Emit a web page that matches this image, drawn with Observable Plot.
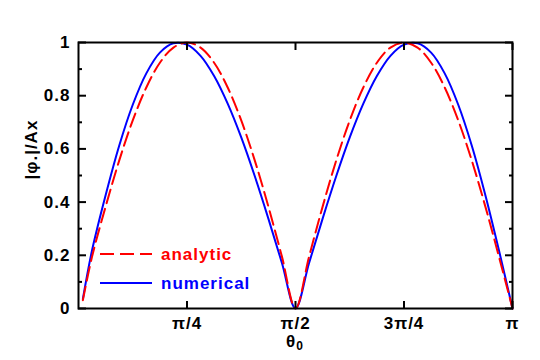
<!DOCTYPE html>
<html><head><meta charset="utf-8">
<script src="https://cdn.jsdelivr.net/npm/d3@7"></script>
<script src="https://cdn.jsdelivr.net/npm/@observablehq/plot@0.6"></script>
<style>
body{margin:0;background:#fff;}
svg text{letter-spacing:1px;font-family:'Liberation Sans',Arial,sans-serif !important;font-weight:bold !important;font-size:17px;}
</style></head><body><div id="chart"></div>
<script>
// theta in units of pi
const theta = [0.01, 0.03125, 0.0625, 0.09375, 0.125, 0.15625, 0.1875, 0.21875, 0.25, 0.28125, 0.3125, 0.34375, 0.375, 0.40625, 0.4375, 0.46875, 0.5,
  0.53125, 0.5625, 0.59375, 0.625, 0.65625, 0.6875, 0.71875, 0.75, 0.78125, 0.8125, 0.84375, 0.875, 0.90625, 0.9375, 0.96875, 1];
const analytic = [0.031, 0.195, 0.383, 0.556, 0.707, 0.831, 0.924, 0.981, 1, 0.981, 0.924, 0.831, 0.707, 0.556, 0.383, 0.195, 0,
  0.195, 0.383, 0.556, 0.707, 0.831, 0.924, 0.981, 1, 0.981, 0.924, 0.831, 0.707, 0.556, 0.383, 0.195, 0];
const numerical = [0.035, 0.219, 0.426, 0.612, 0.766, 0.884, 0.962, 0.997, 0.992, 0.950, 0.874, 0.770, 0.643, 0.497, 0.338, 0.171, 0,
  0.171, 0.338, 0.497, 0.643, 0.770, 0.874, 0.950, 0.992, 0.997, 0.962, 0.884, 0.766, 0.612, 0.426, 0.219, 0];
const xTickValues = [0.25, 0.5, 0.75, 1];
const xTickLabels = ["π/4", "π/2", "3π/4", "π"];
const yTickValues = [0, 0.2, 0.4, 0.6, 0.8, 1];
const yTickLabels = ["0", "0.2", "0.4", "0.6", "0.8", "1"];
const yMinorTicks = [0.1, 0.3, 0.5, 0.7, 0.9];
const seriesNames = ["analytic", "numerical"];
const seriesColors = ["#ff0000", "#0000ff"];
const xLabel = "θ";
const xLabelSub = "0";
const yLabel = "|φ.|/Ax";

const rows = theta.map((t, i) => ({t, analytic: analytic[i], numerical: numerical[i]}));
const fmtX = d => xTickLabels[xTickValues.indexOf(d)];
const fmtY = d => yTickLabels[yTickValues.indexOf(d)];
const blank = () => "";

const plot = Plot.plot({
  width: 540, height: 360,
  marginLeft: 78, marginRight: 28, marginTop: 42, marginBottom: 52,
  style: {fontFamily: "'Liberation Sans', Arial, sans-serif", fontSize: "17px", fontWeight: "bold", color: "#000", background: "#fff"},
  x: {domain: [0, 1]},
  y: {domain: [0, 1]},
  marks: [
    Plot.line(rows, {x: "t", y: "numerical", stroke: seriesColors[1], strokeWidth: 2, curve: "catmull-rom"}),
    Plot.line(rows, {x: "t", y: "analytic", stroke: seriesColors[0], strokeWidth: 2, strokeDasharray: "14,6", curve: "catmull-rom"}),
    Plot.frame({stroke: "#000", strokeWidth: 2}),
    // inward tick marks
    Plot.axisX({anchor: "bottom", ticks: xTickValues, tickSize: -7, tickFormat: blank, label: null, strokeWidth: 2}),
    Plot.axisX({anchor: "top", ticks: xTickValues, tickSize: -7, tickFormat: blank, label: null, strokeWidth: 2}),
    Plot.axisY({anchor: "left", ticks: yTickValues, tickSize: -8, tickFormat: blank, label: null, strokeWidth: 2}),
    Plot.axisY({anchor: "left", ticks: yMinorTicks, tickSize: -4, tickFormat: blank, label: null, strokeWidth: 2}),
    Plot.axisY({anchor: "right", ticks: yTickValues, tickSize: -8, tickFormat: blank, label: null, strokeWidth: 2}),
    Plot.axisY({anchor: "right", ticks: yMinorTicks, tickSize: -4, tickFormat: blank, label: null, strokeWidth: 2}),
    // labels
    Plot.axisX({anchor: "bottom", ticks: xTickValues, tickSize: 0, tickPadding: 8, tickFormat: fmtX, label: null, fill: "#000"}),
    Plot.axisY({anchor: "left", ticks: yTickValues, tickSize: 0, tickPadding: 8, tickFormat: fmtY, label: null, fill: "#000"}),
    Plot.text([yLabel], {frameAnchor: "left", dx: -47, dy: 4, rotate: -90, text: d => d, fontSize: 17, fontWeight: "bold"})
  ]
});
document.getElementById("chart").appendChild(plot);

const svg = d3.select(plot);
// x axis title with subscript
const xt = svg.append("text").attr("x", 295).attr("y", 347).attr("text-anchor", "middle").attr("fill", "#000");
xt.append("tspan").text(xLabel);
xt.append("tspan").attr("dy", 3).style("font-size", "12px").text(xLabelSub);

// legend
const lg = svg.append("g");
seriesNames.forEach((name, i) => {
  const y = 254 + i * 29;
  lg.append("line").attr("x1", 100).attr("x2", 152).attr("y1", y).attr("y2", y)
    .attr("stroke", seriesColors[i]).attr("stroke-width", 2)
    .attr("stroke-dasharray", i === 0 ? "14,6" : null);
  lg.append("text").attr("x", 161).attr("y", y).attr("dy", "0.35em").attr("text-anchor", "start")
    .attr("fill", seriesColors[i]).text(name);
});
</script></body></html>
